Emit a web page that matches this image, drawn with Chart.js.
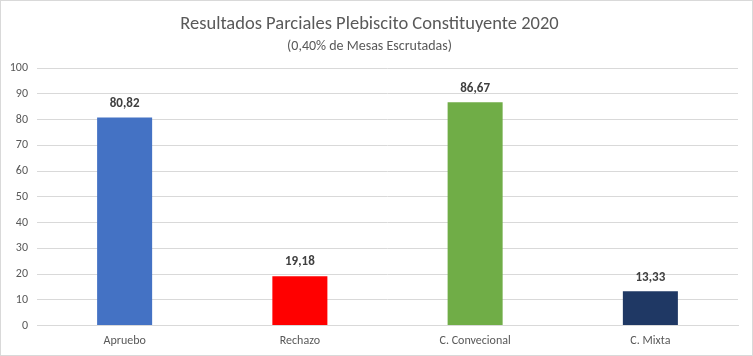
<!DOCTYPE html>
<html><head><meta charset="utf-8">
<script src="https://cdn.jsdelivr.net/npm/chart.js@4"></script>
<style>
html,body{margin:0;padding:0;background:#fff;}
#wrap{width:753px;height:356px;box-sizing:border-box;border:1px solid #d9d9d9;background:#fff;}
canvas{display:block;}
</style></head>
<body>
<div id="wrap"><canvas id="c" width="751" height="354"></canvas></div>
<script>
const categories = ["Apruebo", "Rechazo", "C. Convecional", "C. Mixta"];
const values = [80.82, 19.18, 86.67, 13.33];
const barColors = ["#4472C4", "#FF0000", "#70AD47", "#1F3864"];
const titleText = "Resultados Parciales Plebiscito Constituyente 2020";
const subtitleText = "(0,40% de Mesas Escrutadas)";

const FONT = "Carlito, 'Liberation Sans Narrow', 'Open Sans', sans-serif";

const labelPlugin = {
  id: 'valueLabels',
  afterDatasetsDraw(chart) {
    const ctx = chart.ctx;
    const meta = chart.getDatasetMeta(0);
    ctx.save();
    ctx.font = "bold 13px " + FONT;
    ctx.fillStyle = "#404040";
    ctx.textAlign = "center";
    ctx.textBaseline = "middle";
    meta.data.forEach((bar, i) => {
      const v = chart.data.datasets[0].data[i];
      ctx.fillText(v.toFixed(2).replace('.', ','), bar.x, bar.y - 14);
    });
    ctx.restore();
  }
};

new Chart(document.getElementById('c'), {
  type: 'bar',
  data: {
    labels: categories,
    datasets: [{
      data: values,
      backgroundColor: barColors,
      borderWidth: 0,
      categoryPercentage: 1,
      barPercentage: 0.314
    }]
  },
  options: {
    responsive: false,
    animation: false,
    devicePixelRatio: 1,
    layout: { padding: { left: 0, right: 14, top: 0, bottom: -1 } },
    plugins: {
      legend: { display: false },
      tooltip: { enabled: false },
      title: {
        display: true, text: titleText, color: "#595959",
        font: { family: FONT, size: 18.5, weight: 'normal' },
        padding: { top: 12, bottom: 1 }
      },
      subtitle: {
        display: true, text: subtitleText, color: "#595959",
        font: { family: FONT, size: 14, weight: 'normal' },
        padding: { top: 2, bottom: 13 }
      }
    },
    scales: {
      x: {
        grid: { display: false, drawTicks: false },
        border: { display: true, color: "#d9d9d9" },
        ticks: { color: "#595959", font: { family: FONT, size: 12 }, padding: 8 }
      },
      y: {
        min: 0, max: 100,
        afterFit(s) { s.width = 36; },
        grid: { color: "#d9d9d9", drawTicks: false },
        border: { display: false },
        ticks: { stepSize: 10, color: "#595959", font: { family: FONT, size: 12 }, padding: 9 }
      }
    }
  },
  plugins: [labelPlugin]
});
</script>
</body></html>
